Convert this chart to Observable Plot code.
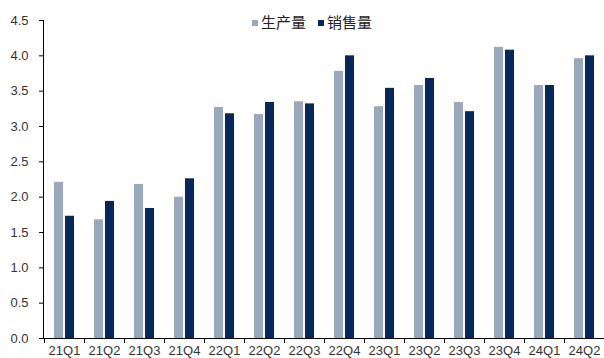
<!DOCTYPE html>
<html><head><meta charset="utf-8">
<script src="https://cdn.jsdelivr.net/npm/d3@7"></script>
<script src="https://cdn.jsdelivr.net/npm/@observablehq/plot@0.6"></script>
<style>
body{margin:0;background:#fff;}
#wrap{position:relative;width:604px;height:358px;overflow:hidden;}
#legend{position:absolute;left:252px;top:12px;font-family:"Noto Sans CJK SC","Liberation Sans",sans-serif;font-size:15px;color:#222;white-space:nowrap;line-height:20px;}
#legend span.sw{display:inline-block;width:6px;height:6px;margin-right:3px;vertical-align:middle;position:relative;top:-1px;}
#legend span.item{margin-right:12px;}
</style></head>
<body><div id="wrap"></div>
<script>
const quarters = ["21Q1","21Q2","21Q3","21Q4","22Q1","22Q2","22Q3","22Q4","23Q1","23Q2","23Q3","23Q4","24Q1","24Q2"];
const production = [2.21,1.68,2.18,2.00,3.27,3.17,3.35,3.78,3.28,3.58,3.34,4.12,3.58,3.96];
const sales = [1.73,1.94,1.84,2.26,3.18,3.34,3.32,4.00,3.54,3.68,3.21,4.08,3.58,4.00];
const seriesNames = ["生产量","销售量"];
const colors = ["#98a9bb","#04285a"];
const yTicks = [0,0.5,1,1.5,2,2.5,3,3.5,4,4.5];

const prodData = quarters.map((q,i)=>({q, v: production[i]}));
const salesData = quarters.map((q,i)=>({q, v: sales[i]}));

const chart = Plot.plot({
  width: 604, height: 358,
  marginTop: 20, marginBottom: 20, marginLeft: 43, marginRight: 0,
  style: {fontFamily: "'Liberation Sans', Arial, sans-serif", fontSize: "13px", color: "#333", background: "#fff"},
  x: {domain: quarters, padding: 0, axis: null, label: null},
  y: {domain: [0, 4.5], axis: null, label: null},
  marks: [
    Plot.barY(prodData, {x: "q", y: "v", fill: colors[0], insetLeft: 10, insetRight: 21}),
    Plot.barY(salesData, {x: "q", y: "v", fill: colors[1], insetLeft: 21, insetRight: 10}),
    Plot.axisY({ticks: yTicks, tickFormat: d3.format(".1f"), tickSize: 4, tickPadding: 11, stroke: "#000", fill: "#333", fontSize: 13, label: null}),
    Plot.frame({anchor: "left", stroke: "#000"}),
    Plot.ruleY([0], {stroke: "#000"}),
    Plot.axisX({tickFormat: () => "", tickSize: 5, dx: -20, stroke: "#000", label: null}),
    Plot.axisX({tickSize: 0, tickPadding: 7, fill: "#333", fontSize: 13, label: null})
  ]
});
const wrap = document.getElementById("wrap");
wrap.appendChild(chart);
const legend = document.createElement("div");
legend.id = "legend";
legend.innerHTML = seriesNames.map((n,i)=>`<span class="item"><span class="sw" style="background:${colors[i]}"></span>${n}</span>`).join("");
wrap.appendChild(legend);
</script></body></html>
